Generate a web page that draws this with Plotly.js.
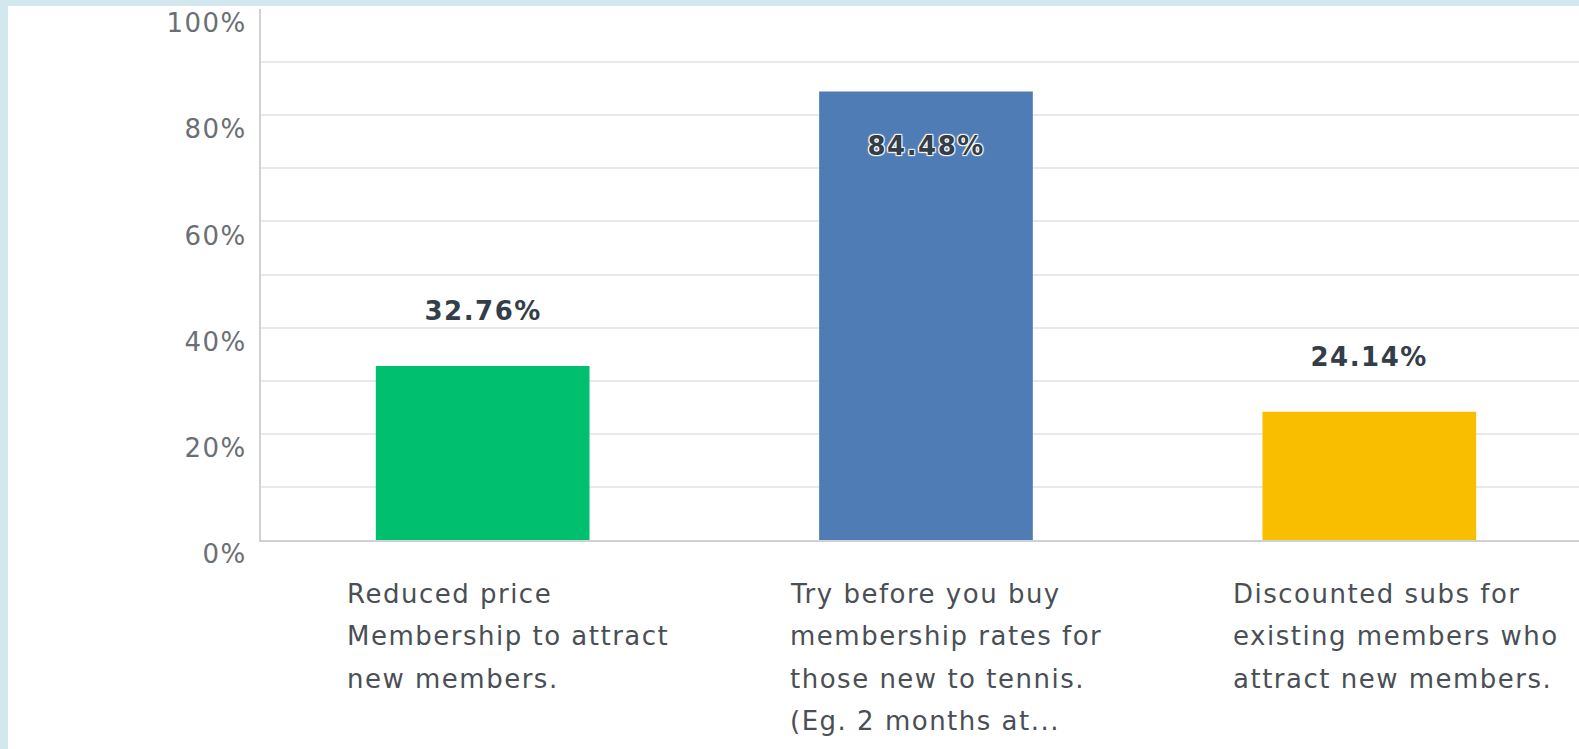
<!DOCTYPE html>
<html>
<head>
<meta charset="utf-8">
<script src="https://cdn.plot.ly/plotly-3.0.1.min.js"></script>
<style>
  html, body { margin: 0; padding: 0; background: #d3e8ee; width: 1579px; height: 749px; overflow: hidden; }
  #chart { position: absolute; left: 8px; top: 6px; width: 1571px; height: 743px; background: #fff; }
  #chart .ytick text, #chart .annotation-text { letter-spacing: 1.5px; }
</style>
</head>
<body>
<div id="chart"></div>
<script>
// Data
const categoryLines = [
  ["Reduced price", "Membership to attract", "new members."],
  ["Try before you buy", "membership rates for", "those new to tennis.", "(Eg. 2 months at..."],
  ["Discounted subs for", "existing members who", "attract new members."]
];
const values = [32.76, 84.48, 24.14];
const valueLabels = ["32.76%", "84.48%", "24.14%"];
const barColors = ["#00bf6f", "#507cb6", "#f9be00"];
const yTickVals = [0, 20, 40, 60, 80, 100];
const yTickText = ["0%", "20%", "40%", "60%", "80%", "100%"];

const FONT = "DejaVu Sans, Verdana, sans-serif";
const xIdx = values.map((_, i) => i);

const trace = {
  type: "bar",
  x: xIdx,
  y: values,
  marker: { color: barColors, line: { width: 0 } },
  hoverinfo: "none"
};

const annotations = [];
values.forEach((v, i) => {
  const inside = v > 70;
  annotations.push({
    x: i, y: v, xref: "x", yref: "y",
    text: valueLabels[i],
    showarrow: false,
    xanchor: "center", yanchor: "middle",
    yshift: inside ? -55 : 55,
    font: inside
      ? { family: FONT, size: 26, color: "#333e48", weight: "bold",
          shadow: "1px 1px 1px #fff, -1px -1px 1px #fff, 1px -1px 1px #fff, -1px 1px 1px #fff" }
      : { family: FONT, size: 26, color: "#333e48", weight: "bold" }
  });
});
categoryLines.forEach((lines, i) => {
  lines.forEach((line, k) => {
    annotations.push({
      x: i, y: 0, xref: "x", yref: "y",
      text: line,
      showarrow: false,
      xanchor: "left", yanchor: "middle", align: "left",
      xshift: -138,
      yshift: -54 - 42.3 * k,
      font: { family: FONT, size: 26, color: "#4a4f55" }
    });
  });
});

const layout = {
  width: 1571, height: 743,
  margin: { l: 253, r: 0, t: 3, b: 209, pad: 0 },
  paper_bgcolor: "#ffffff",
  plot_bgcolor: "#ffffff",
  showlegend: false,
  bargap: 0.518,
  hovermode: false,
  xaxis: {
    range: [-0.5, 2.473],
    showticklabels: false,
    ticks: "",
    showgrid: false,
    zeroline: false,
    showline: true,
    linecolor: "#cfd2d4",
    linewidth: 2,
    fixedrange: true
  },
  yaxis: {
    range: [0, 100],
    tickvals: yTickVals,
    ticktext: yTickText,
    ticks: "",
    ticklabelstandoff: 7,
    ticklabelshift: 14,
    tickfont: { family: FONT, size: 26, color: "#6b6f73" },
    showgrid: true,
    gridcolor: "#e9e9e9",
    gridwidth: 2,
    minor: { dtick: 10, showgrid: true, gridcolor: "#e9e9e9", gridwidth: 2, ticks: "" },
    zeroline: false,
    showline: true,
    linecolor: "#cfd2d4",
    linewidth: 2,
    fixedrange: true
  },
  annotations: annotations
};

Plotly.newPlot("chart", [trace], layout, { displayModeBar: false, staticPlot: true });
</script>
</body>
</html>
